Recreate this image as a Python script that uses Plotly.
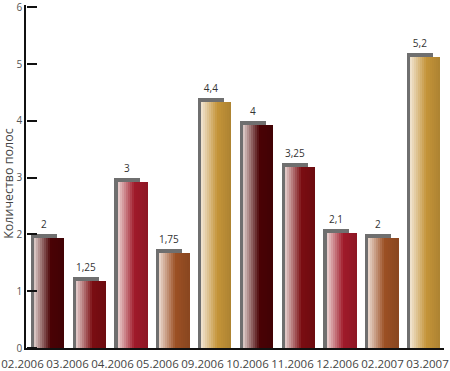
import plotly.graph_objects as go

categories = ["02.2006", "03.2006", "04.2006", "05.2006", "09.2006",
              "10.2006", "11.2006", "12.2006", "02.2007", "03.2007"]
values = [2, 1.25, 3, 1.75, 4.4, 4, 3.25, 2.1, 2, 5.2]
base_colors = ["#4a0205", "#7b0d12", "#a01a2a", "#9c5024", "#c49438",
               "#4a0205", "#7b0d12", "#a01a2a", "#9c5024", "#c49438"]
y_ticks = [0, 1, 2, 3, 4, 5, 6]

W, H = 450, 371
n = len(categories)
y_range = [0, 6.04]

def hex2rgb(h):
    h = h.lstrip("#")
    return tuple(int(h[i:i + 2], 16) for i in (0, 2, 4))

def mix(c, other, t):
    return tuple(round(a + (b - a) * t) for a, b in zip(c, other))

def grad_color(hexc, t):
    c = hex2rgb(hexc)
    light = mix(c, (250, 244, 240), 0.85)
    if t < 0.55:
        r = mix(light, c, t / 0.55)
    else:
        r = mix(c, (0, 0, 0), (t - 0.55) / 0.45 * 0.12)
    return "rgb(%d,%d,%d)" % r

fig = go.Figure()

# gray back bar (full value)
fig.add_trace(go.Bar(
    x=categories, y=values, offset=-0.383, width=0.622,
    marker=dict(color="#6f6f6f", line=dict(width=0)),
    text=[str(v).replace(".", ",") for v in values],
    textposition="outside", cliponaxis=False,
    textfont=dict(family="Open Sans", size=10, color="#333333"),
    hoverinfo="skip", showlegend=False,
))

# gradient front bar made of slices
N = 15
full_w = 0.718
sw = full_w / N
drop = 0.07
for i in range(N):
    t = (i + 0.5) / N
    fig.add_trace(go.Bar(
        x=categories, y=[v - drop for v in values],
        offset=-0.311 + i * sw, width=sw * 1.15,
        marker=dict(color=[grad_color(c, t) for c in base_colors], line=dict(width=0)),
        hoverinfo="skip", showlegend=False,
    ))

# helper invisible traces for the label axis and the tick axis
fig.add_trace(go.Scatter(
    x=list(range(n)), y=values, xaxis="x2", yaxis="y", mode="markers",
    marker=dict(opacity=0), hoverinfo="skip", showlegend=False,
))
fig.add_trace(go.Scatter(
    x=categories, y=values, xaxis="x", yaxis="y2", mode="markers",
    marker=dict(opacity=0), hoverinfo="skip", showlegend=False,
))

fig.update_layout(
    width=W, height=H,
    margin=dict(l=0, r=0, t=2, b=19),
    paper_bgcolor="white", plot_bgcolor="rgba(0,0,0,0)",
    barmode="overlay", bargap=0,
    font=dict(family="Open Sans", size=10, color="#555555"),
    xaxis=dict(
        type="category", domain=[26 / W, 444 / W], range=[-0.5, n - 0.5],
        showticklabels=False, ticks="", showgrid=False, zeroline=False,
        showline=True, linecolor="#111111", linewidth=1.5, anchor="y",
    ),
    xaxis2=dict(
        domain=[0, 1], range=[-0.5, n - 0.5], anchor="y", side="bottom",
        tickmode="array", tickvals=list(range(n)), ticktext=categories,
        showline=False, showgrid=False, zeroline=False, ticks="",
        ticklabelstandoff=7, ticklabeloverflow="allow",
        tickfont=dict(family="Open Sans", size=11.5, color="#444444"),
    ),
    yaxis=dict(
        range=y_range, tickvals=y_ticks, ticks="", showline=True,
        linecolor="#111111", linewidth=1.5, showgrid=False, zeroline=False,
        anchor="x", ticklabeloverflow="allow",
        tickfont=dict(family="Open Sans", size=10, color="#555555"),
    ),
    yaxis2=dict(
        range=y_range, tickvals=y_ticks, overlaying="y", side="right",
        anchor="free", position=26 / W, ticks="outside", ticklen=10,
        tickwidth=1.5, tickcolor="#111111", showticklabels=False,
        showline=False, showgrid=False, zeroline=False,
    ),
    annotations=[dict(
        text="Количество полос", textangle=-90, xref="paper", yref="paper",
        x=0, xanchor="left", xshift=-2, y=(352 - 184) / 350, yanchor="middle",
        showarrow=False,
        font=dict(family="Open Sans", size=12.5, color="#444444"),
    )],
)

fig.write_html("out.html")
